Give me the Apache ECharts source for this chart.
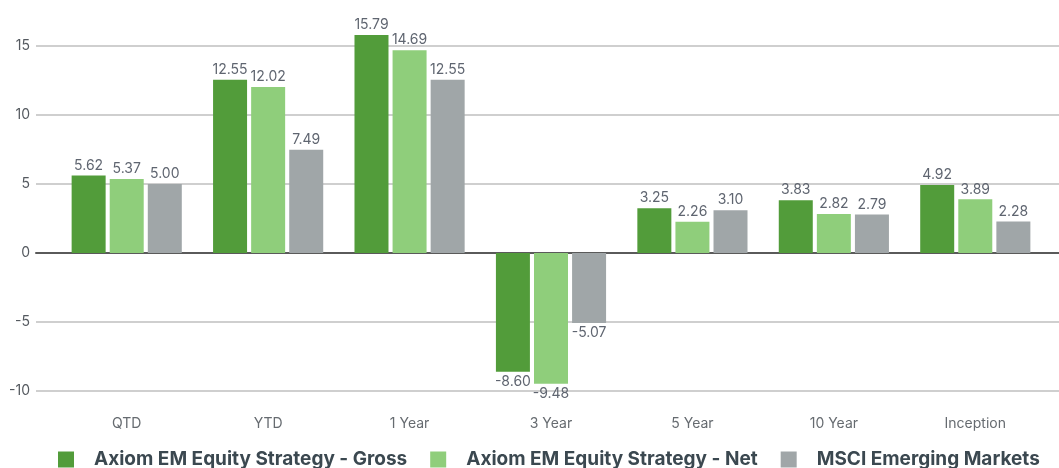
<!DOCTYPE html>
<html><head><meta charset="utf-8">
<script src="https://cdn.jsdelivr.net/npm/echarts@6/dist/echarts.min.js"></script>
<style>html,body{margin:0;padding:0;background:#fff}#c{width:1059px;height:468px}</style>
</head><body><div id="c"></div>
<script>
const categories = ['QTD', 'YTD', '1 Year', '3 Year', '5 Year', '10 Year', 'Inception'];
const seriesNames = ['Axiom EM Equity Strategy - Gross', 'Axiom EM Equity Strategy - Net', 'MSCI Emerging Markets'];
const gross = [5.62, 12.55, 15.79, -8.60, 3.25, 3.83, 4.92];
const net = [5.37, 12.02, 14.69, -9.48, 2.26, 2.82, 3.89];
const msci = [5.00, 7.49, 12.55, -5.07, 3.10, 2.79, 2.28];
const colors = ['#529c3a', '#8fce7b', '#a0a6a8'];
const yMin = -10, yMax = 15, yStep = 5;

const font = 'Inter, "Liberation Sans", sans-serif';
const chart = echarts.init(document.getElementById('c'));
function mk(name, data, i) {
  return {
    name, type: 'bar', xAxisIndex: 0, yAxisIndex: 0,
    barWidth: 34, barGap: '12%', clip: false,
    itemStyle: { color: colors[i] },
    label: {
      show: true,
      distance: 3,
      formatter: p => p.value.toFixed(2),
      color: '#5f6570', fontSize: 14, fontFamily: font
    },
    data: data.map(v => ({ value: v, label: { position: v < 0 ? 'bottom' : 'top' } }))
  };
}
const series = [mk(seriesNames[0], gross, 0), mk(seriesNames[1], net, 1), mk(seriesNames[2], msci, 2)];
chart.setOption({
  animation: false,
  textStyle: { fontFamily: font },
  legend: {
    data: seriesNames,
    left: 53, bottom: -6,
    itemWidth: 16, itemHeight: 16, itemGap: 23,
    icon: 'rect',
    textStyle: { fontSize: 19, fontWeight: 'bold', color: '#3b4850', fontFamily: font, padding: [0, 0, 0, 15] }
  },
  grid: [
    { left: 56, right: 13, top: 46, bottom: 77 },
    { left: 36, right: 0, top: 46, bottom: 77 }
  ],
  xAxis: [
    { type: 'category', data: categories, gridIndex: 0,
      axisLine: { show: false }, axisTick: { show: false },
      axisLabel: { margin: 26, fontSize: 14, color: '#666b70', fontFamily: font } },
    { type: 'value', gridIndex: 1, min: 0, max: 1, show: true,
      axisLabel: { show: false }, axisTick: { show: false }, splitLine: { show: false },
      axisLine: { show: true, onZero: true, lineStyle: { color: '#5a5a5a', width: 2 } } }
  ],
  yAxis: [
    { type: 'value', gridIndex: 0, min: yMin, max: yMax, interval: yStep,
      axisLabel: { show: false }, splitLine: { show: false }, axisLine: { show: false }, axisTick: { show: false } },
    { type: 'value', gridIndex: 1, min: yMin, max: yMax, interval: yStep,
      axisLine: { show: false }, axisTick: { show: false },
      axisLabel: { margin: 6, fontSize: 14, color: '#555a60', fontFamily: font },
      splitLine: { lineStyle: { color: '#cfcfcf', width: 2 } } }
  ],
  series
});
</script></body></html>
